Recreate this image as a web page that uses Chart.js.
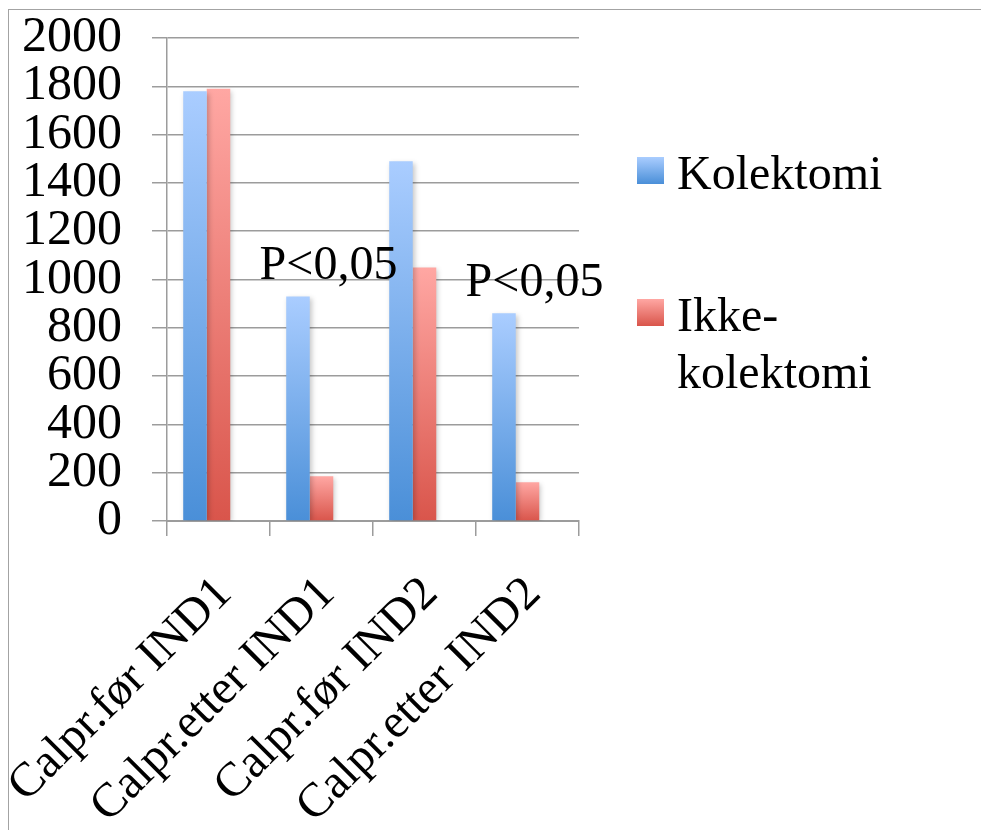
<!DOCTYPE html>
<html>
<head>
<meta charset="utf-8">
<script src="https://cdn.jsdelivr.net/npm/chart.js@4/dist/chart.umd.min.js"></script>
<style>
  html, body { margin: 0; padding: 0; background: #ffffff; overflow: hidden; }
  #wrap { position: relative; width: 981px; height: 830px; }
  #frame {
    position: absolute; left: 8px; top: 9px; width: 1200px; height: 1200px;
    border-top: 1.5px solid #a3a3a3; border-left: 1.5px solid #a3a3a3;
  }
  canvas { position: absolute; left: 0; top: 0; }
</style>
</head>
<body>
<div id="wrap">
  <div id="frame"></div>
  <canvas id="chart" width="981" height="830"></canvas>
</div>
<script>
// Calprotectin levels before/after induction, by outcome group
const categories = ['Calpr.før IND1', 'Calpr.etter IND1', 'Calpr.før IND2', 'Calpr.etter IND2'];
const kolektomi = [1780, 930, 1490, 860];
const ikkeKolektomi = [1790, 185, 1050, 160];
const significance = ['', 'P<0,05', '', 'P<0,05'];
const yTicks = { min: 0, max: 2000, step: 200 };

const FONT = '"Liberation Serif", "DejaVu Serif", serif';
const GRID = '#9c9c9c';

const palette = {
  blue: { top: '#aacdff', bottom: '#4a8fd8' },
  red:  { top: '#ffa7a3', bottom: '#d9554b' }
};

function barGradient(colors) {
  return function (ctx) {
    const chart = ctx.chart;
    if (!chart.chartArea || ctx.type !== 'data' || ctx.raw == null) return colors.bottom;
    const y = chart.scales.y;
    const top = y.getPixelForValue(ctx.raw);
    const base = y.getPixelForValue(0);
    const g = chart.ctx.createLinearGradient(0, top, 0, base);
    g.addColorStop(0, colors.top);
    g.addColorStop(1, colors.bottom);
    return g;
  };
}

// soft drop shadow behind the bars
const barShadow = {
  id: 'barShadow',
  beforeDatasetsDraw(chart) {
    const c = chart.ctx;
    c.save();
    c.shadowColor = 'rgba(0,0,0,0.22)';
    c.shadowBlur = 5;
    c.shadowOffsetX = 2;
    c.shadowOffsetY = 2;
  },
  afterDatasetsDraw(chart) { chart.ctx.restore(); }
};

// significance notes above the Kolektomi bars
const pNotes = {
  id: 'pNotes',
  afterDatasetsDraw(chart) {
    const c = chart.ctx;
    const x = chart.scales.x, y = chart.scales.y;
    c.save();
    c.font = '48px ' + FONT;
    c.fillStyle = '#000';
    c.textAlign = 'center';
    c.textBaseline = 'alphabetic';
    significance.forEach((txt, i) => {
      if (!txt) return;
      c.fillText(txt, x.getPixelForValue(i) + 7, y.getPixelForValue(kolektomi[i]) - 17);
    });
    c.restore();
  }
};

// legend on the right with gradient swatches
const sideLegend = {
  id: 'sideLegend',
  afterDraw(chart) {
    const c = chart.ctx;
    const items = chart.data.datasets.filter(d => d.label);
    const rows = [157, 299];
    c.save();
    c.font = '48px ' + FONT;
    c.fillStyle = '#000';
    c.textBaseline = 'alphabetic';
    items.forEach((d, i) => {
      const top = rows[i];
      const g = c.createLinearGradient(0, top, 0, top + 27);
      g.addColorStop(0, d.swatch.top);
      g.addColorStop(1, d.swatch.bottom);
      c.fillStyle = g;
      c.fillRect(637, top, 27, 27);
      c.fillStyle = '#000';
      const lines = Array.isArray(d.label) ? d.label : [d.label];
      lines.forEach((ln, k) => c.fillText(ln, 677, top + 32 + k * 57));
    });
    c.restore();
  }
};

new Chart(document.getElementById('chart'), {
  type: 'bar',
  data: {
    labels: categories,
    datasets: [
      { label: 'Kolektomi', data: kolektomi, backgroundColor: barGradient(palette.blue), swatch: palette.blue },
      { label: ['Ikke-', 'kolektomi'], data: ikkeKolektomi, backgroundColor: barGradient(palette.red), swatch: palette.red },
      // empty third series slot, keeps the bar groups left of centre
      { label: '', data: [null, null, null, null], backgroundColor: 'rgba(0,0,0,0)' }
    ]
  },
  options: {
    responsive: false,
    animation: false,
    devicePixelRatio: 1,
    layout: { padding: { top: 38, right: 402, bottom: 0, left: 0 } },
    datasets: { bar: { categoryPercentage: 0.685, barPercentage: 1.0 } },
    plugins: {
      legend: { display: false },
      tooltip: { enabled: false }
    },
    scales: {
      x: {
        offset: true,
        grid: { display: true, drawOnChartArea: false, drawTicks: true, tickLength: 15, color: GRID, lineWidth: 1.5, offset: true },
        border: { display: true, color: GRID, width: 2 },
        ticks: {
          font: { family: FONT, size: 48 },
          color: '#000',
          minRotation: 45, maxRotation: 45,
          padding: 30,
          labelOffset: 6,
          autoSkip: false
        },
        afterFit(scale) {
          scale.height = 309;
          scale.paddingLeft = 0;
          scale.paddingRight = 0;
        }
      },
      y: {
        min: yTicks.min, max: yTicks.max,
        grid: { color: GRID, lineWidth: 1.5, tickLength: 15, drawTicks: true },
        border: { display: true, color: GRID, width: 1.5 },
        ticks: {
          stepSize: yTicks.step,
          autoSkip: false,
          font: { family: FONT, size: 50 },
          color: '#000',
          padding: 30,
          callback: v => String(v)
        },
        afterFit(scale) {
          scale.width = 167;
          scale.paddingTop = 0;
          scale.paddingBottom = 0;
        }
      }
    }
  },
  plugins: [barShadow, pNotes, sideLegend]
});
</script>
</body>
</html>
